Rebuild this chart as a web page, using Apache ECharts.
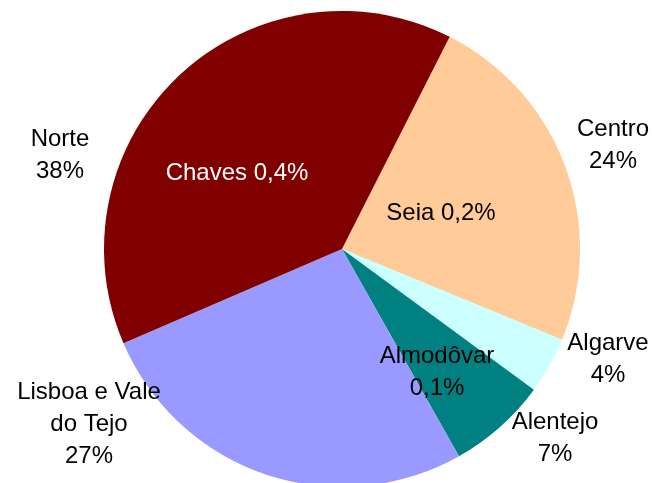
<!DOCTYPE html>
<html>
<head>
<meta charset="utf-8">
<script src="https://cdn.jsdelivr.net/npm/echarts@6/dist/echarts.min.js"></script>
<style>
  html, body { margin: 0; padding: 0; background: #fff; }
  #pieChart { width: 652px; height: 483px; }
</style>
</head>
<body>
<div id="pieChart"></div>
<script>
// regiões (ordem no sentido horário a partir do topo)
var regions = ['Centro', 'Algarve', 'Alentejo', 'Lisboa e Vale do Tejo', 'Norte'];
var shares = [23.75, 3.85, 6.75, 26.7, 38.95];
var pctLabels = ['24%', '4%', '7%', '27%', '38%'];
var colors = ['#FFCC99', '#CCFFFF', '#008080', '#9999FF', '#800000'];

// notas dentro das fatias
var notes = ['Chaves 0,4%', 'Seia 0,2%', 'Almodôvar\n0,1%'];
var noteColors = ['#ffffff', '#000000', '#000000'];

// posição dos rótulos (px)
var labelPos = [[613, 145], [608, 359], [555, 438], [89, 424], [60, 155]];
var notePos = [[237, 173], [441, 213], [437, 372]];

var FONT = '"Liberation Sans", Arial, sans-serif';

var chart = echarts.init(document.getElementById('pieChart'));

var option = {
  backgroundColor: '#fff',
  animation: false,
  series: [
    {
      type: 'pie',
      center: [342, 249],
      radius: 238,
      startAngle: 63.1,
      clockwise: true,
      data: regions.map(function (n, i) {
        return { name: n, value: shares[i], itemStyle: { color: colors[i] } };
      }),
      label: {
        show: true,
        color: '#000',
        fontFamily: FONT,
        fontSize: 24,
        lineHeight: 32,
        align: 'center',
        overflow: 'none',
        formatter: function (p) {
          // quebra "Lisboa e Vale / do Tejo"
          var name = p.name.replace(' do ', '\ndo ');
          return name + '\n' + pctLabels[p.dataIndex];
        }
      },
      labelLine: { show: false },
      labelLayout: function (params) {
        var pos = labelPos[params.dataIndex];
        return { x: pos[0], y: pos[1], align: 'center', verticalAlign: 'middle', width: 200 };
      },
      emphasis: { disabled: true }
    }
  ],
  graphic: notes.map(function (t, i) {
    return {
      type: 'text',
      z: 100,
      x: notePos[i][0],
      y: notePos[i][1],
      style: {
        text: t,
        fill: noteColors[i],
        font: '24px ' + FONT,
        lineHeight: 32,
        align: 'center',
        verticalAlign: 'middle'
      }
    };
  })
};

chart.setOption(option);
</script>
</body>
</html>
